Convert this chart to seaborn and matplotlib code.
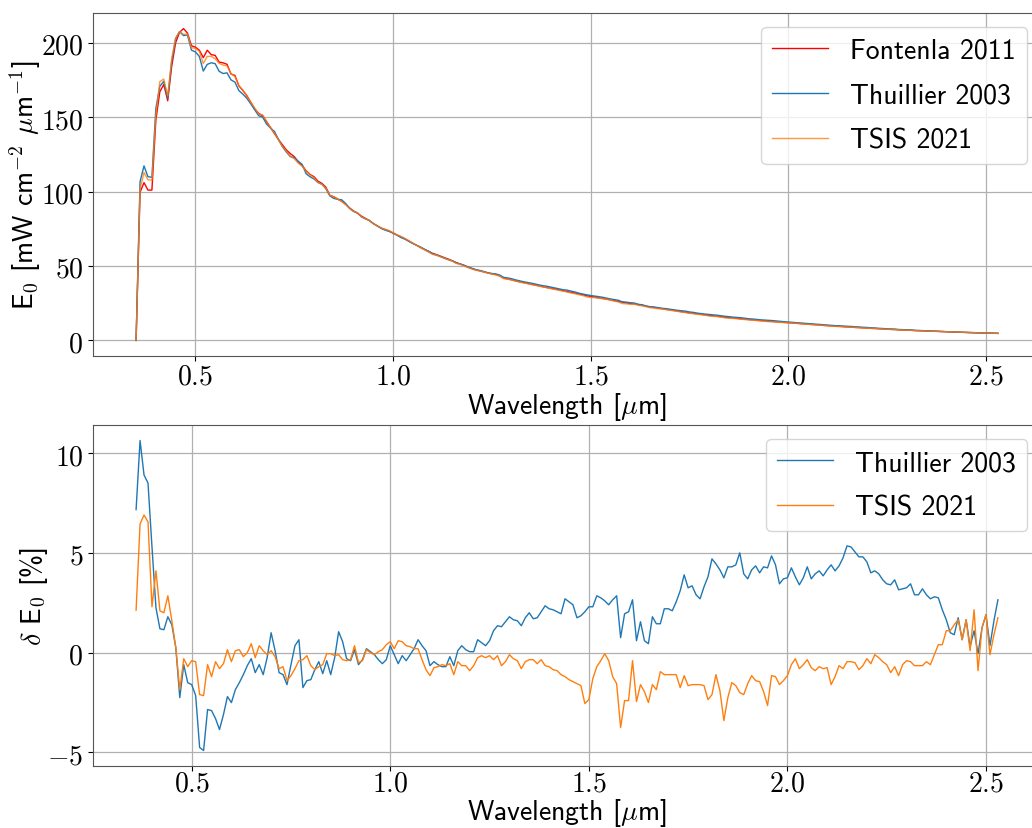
import numpy as np
import matplotlib
matplotlib.use("Agg")
import matplotlib.pyplot as plt
from matplotlib.ticker import FuncFormatter
import seaborn as sns

# ---- Data ----
# wavelength grid in micrometres, 10 nm sampling from 0.35 to 2.53
wavelength = np.round(np.arange(35, 254) / 100, 2)

# Fontenla 2011 solar irradiance E0 [mW cm^-2 um^-1]
fontenla_2011 = [
    0, 99.5, 106, 101, 101, 148, 167, 172, 161, 184,
    200, 207, 209.5, 206.5, 198, 197, 195, 190, 195, 192,
    191.5, 187, 186.5, 185.5, 179, 178, 171, 168, 164.5, 160,
    155.5, 152.5, 151, 147, 143, 139, 135, 131.5, 128, 125.5,
    123.5, 120, 117.5, 114, 111.5, 110, 107, 105.5, 103, 97.5,
    96.5, 95, 93.5, 91.5, 89, 87, 85.5, 83.5, 82, 80.5,
    78.5, 77, 75.5, 74.5, 73.5, 72, 70.8, 69.5, 68.2, 66.8,
    65.2, 63.8, 62.3, 61.0, 59.8, 58.5, 57.6, 56.6, 55.6, 54.6,
    53.5, 52.3, 51.3, 50.3, 49.2, 48.3, 47.4, 46.7, 46.0, 45.3,
    44.7, 44.2, 43.3, 41.8, 41.3, 40.7, 40.0, 39.4, 38.9, 38.3,
    37.7, 37.2, 36.6, 36.0, 35.5, 35.0, 34.5, 34.0, 33.4, 32.9,
    32.3, 31.8, 31.2, 30.6, 30.0, 29.5, 29.1, 28.6, 28.2, 27.7,
    27.2, 26.7, 26.2, 25.7, 25.2, 24.8, 24.5, 24.1, 23.6, 23.0,
    22.5, 22.1, 21.7, 21.3, 20.9, 20.5, 20.1, 19.7, 19.3, 18.9,
    18.5, 18.2, 17.8, 17.5, 17.1, 16.8, 16.5, 16.2, 15.9, 15.6,
    15.3, 15.0, 14.8, 14.5, 14.3, 14.0, 13.8, 13.5, 13.3, 13.1,
    12.9, 12.7, 12.5, 12.3, 12.1, 11.9, 11.7, 11.5, 11.3, 11.1,
    10.9, 10.7, 10.5, 10.3, 10.1, 9.9, 9.7, 9.5, 9.4, 9.2,
    9.0, 8.9, 8.7, 8.6, 8.4, 8.3, 8.1, 8.0, 7.8, 7.7,
    7.5, 7.4, 7.3, 7.1, 7.0, 6.9, 6.8, 6.6, 6.5, 6.4,
    6.3, 6.2, 6.1, 6.0, 5.9, 5.8, 5.7, 5.6, 5.5, 5.4,
    5.3, 5.25, 5.15, 5.05, 5.0, 4.9, 4.85, 4.75, 4.7,
]

# relative difference to Fontenla 2011 [%], undefined at 0.35 um (E0 = 0)
thuillier_delta = [np.nan] + [
    7.17, 10.63, 8.9, 8.5, 5.3, 2.25, 1.2, 1.15, 1.8, 1.4,
    0.25, -2.25, -0.6, -1.5, -1.6, -2.15, -4.75, -4.9, -2.85, -2.9,
    -3.3, -3.85, -3.1, -2.2, -2.5, -1.85, -1.5, -1.1, -0.65, -0.3,
    -1.0, -0.6, -1.1, -0.25, 1.0, 0.1, -1.0, -1.1, -1.6, -0.6,
    0.35, 0.65, -1.75, -1.4, -1.35, -0.85, -0.45, -1.05, -0.4, -1.1,
    -0.25, 1.05, 0.55, -0.3, -0.4, 0.15, -0.6, -0.35, 0.2, 0.05,
    -0.1, -0.35, -0.55, -0.35, 0.35, -0.1, -0.55, -0.15, -0.4, -0.1,
    0.2, 0.65, 0.35, 0.1, -0.65, -0.45, -0.6, -0.7, -0.7, -0.2,
    -0.65, 0.1, 0.35, 0.15, 0.05, 0.05, 0.65, 0.5, 0.35, 0.6,
    1.1, 1.35, 1.3, 1.55, 1.8, 1.65, 1.6, 1.35, 1.75, 2.0,
    1.7, 1.75, 2.05, 2.35, 2.2, 2.15, 2.05, 1.95, 2.7, 2.55,
    2.4, 1.75, 1.85, 2.05, 2.3, 2.3, 2.85, 2.75, 2.6, 2.4,
    2.65, 2.85, 0.75, 1.95, 2.05, 2.65, 0.6, 1.55, 0.6, 0.45,
    1.8, 1.45, 1.45, 2.2, 2.2, 2.1, 2.55, 3.1, 3.9, 3.25,
    3.35, 2.9, 2.7, 3.3, 3.8, 4.7, 4.45, 4.15, 3.75, 4.3,
    4.3, 4.4, 5.0, 3.95, 3.7, 4.15, 4.35, 4.0, 4.3, 4.25,
    4.85, 4.4, 3.45, 3.7, 3.75, 4.25, 3.8, 3.4, 3.75, 4.3,
    3.7, 3.95, 4.1, 3.85, 4.15, 4.4, 4.1, 4.35, 4.75, 5.35,
    5.3, 5.05, 4.8, 4.8, 4.55, 4.0, 4.1, 3.95, 3.65, 3.45,
    3.4, 3.65, 3.15, 3.2, 3.25, 3.45, 2.9, 2.9, 3.2, 2.9,
    2.7, 2.8, 2.75, 2.15, 1.65, 1.0, 0.9, 1.75, 0.65, 1.65,
    0.3, 1.1, -0.05, 1.25, 1.9, 0.35, 1.6, 2.65,
]

tsis_delta = [np.nan] + [
    2.13, 6.45, 6.9, 6.55, 2.3, 4.1, 2.1, 2.0, 2.85, 1.6,
    0.25, -1.85, -0.3, -0.7, -0.4, -0.45, -2.1, -2.15, -0.6, -1.2,
    -0.45, -0.8, -0.55, 0.15, -0.45, 0.1, 0.15, -0.2, 0.0, 0.45,
    -0.25, 0.35, 0.1, -0.1, 0.1, -0.2, -0.8, -0.7, -1.4, -1.15,
    -0.8, -0.4, -0.35, -0.15, -0.65, -0.85, -0.7, -0.6, -0.05, -0.05,
    -0.15, -0.1, -0.35, -0.4, -0.35, 0.35, -0.5, -0.4, 0.15, 0.0,
    -0.1, 0.05, 0.15, 0.4, 0.55, 0.2, 0.6, 0.55, 0.35, 0.3,
    0.2, 0.2, -0.35, -0.85, -1.15, -0.75, -0.7, -0.6, -0.65, -0.55,
    -1.1, -0.45, -0.65, -0.65, -0.9, -0.65, -0.25, -0.15, -0.25, -0.15,
    -0.35, -0.15, -0.65, -0.45, -0.1, -0.3, -0.4, -0.8, -0.45, -0.35,
    -0.35, -0.55, -0.35, -0.65, -0.7, -0.85, -0.9, -1.1, -1.2, -1.35,
    -1.45, -1.55, -1.65, -2.55, -2.35, -1.3, -0.7, -0.4, -0.05, -0.4,
    -1.2, -1.55, -3.75, -2.4, -2.4, -0.4, -2.45, -1.6, -1.95, -2.5,
    -1.6, -1.85, -0.95, -1.1, -1.1, -1.1, -1.1, -1.75, -1.15, -1.65,
    -1.6, -1.6, -1.6, -1.65, -2.35, -2.1, -1.1, -1.9, -3.4, -2.25,
    -1.5, -1.65, -2.0, -2.1, -1.55, -1.15, -1.4, -1.45, -1.95, -2.65,
    -1.15, -1.2, -1.6, -1.4, -1.15, -0.6, -0.3, -0.8, -0.6, -0.35,
    -0.75, -0.9, -0.7, -0.8, -0.75, -1.6, -1.2, -0.65, -0.8, -0.45,
    -0.45, -0.5, -0.85, -0.65, -0.3, -0.55, -0.1, -0.25, -0.45, -0.6,
    -1.0, -0.7, -1.15, -0.6, -0.4, -0.45, -0.65, -0.65, -0.65, -0.45,
    -0.6, -0.1, 0.4, 0.4, 1.1, 1.1, 1.4, 1.65, 0.65, 1.65,
    0.1, 2.15, -0.9, 1.25, 1.9, -0.1, 0.9, 1.75,
]

# ---- Style ----
SANS = "cmss10"
FONTSIZE = 20
plt.rcParams["mathtext.fontset"] = "cm"
plt.rcParams["axes.unicode_minus"] = True

COLORS = {"Fontenla 2011": "red", "Thuillier 2003": "#1f77b4", "TSIS 2021": "#ff7f0e"}

fontenla = np.array(fontenla_2011)
d_thuillier = np.array(thuillier_delta)
d_tsis = np.array(tsis_delta)
# the other two spectra follow from the Fontenla reference and their % difference
thuillier = fontenla * (1 + np.nan_to_num(d_thuillier) / 100)
tsis = fontenla * (1 + np.nan_to_num(d_tsis) / 100)


def style_axis(ax, xlabel, ylabel, tickpad=0.5):
    ax.grid(True, color="#b0b0b0", linewidth=0.9)
    ax.set_axisbelow(True)
    ax.set_xlabel(xlabel, family=SANS, fontsize=FONTSIZE, labelpad=0)
    ax.set_ylabel(ylabel, family=SANS, fontsize=FONTSIZE, labelpad=-2)
    ax.xaxis.set_major_formatter(FuncFormatter(lambda v, _: f"${v:.1f}$"))
    ax.yaxis.set_major_formatter(FuncFormatter(lambda v, _: f"${v:g}$"))
    ax.tick_params(labelsize=FONTSIZE)
    ax.tick_params(axis="x", pad=tickpad)
    for s in ax.spines.values():
        s.set_color("#555555")
    ax.legend(loc="upper right", prop={"family": SANS, "size": FONTSIZE},
              labelspacing=0.72)


fig = plt.figure(figsize=(10.32, 8.29), dpi=100)
ax_top = fig.add_axes([93 / 1032, 1 - 357 / 829, 948 / 1032, 343 / 829])
ax_bot = fig.add_axes([93 / 1032, 1 - 767 / 829, 948 / 1032, 341 / 829])

# ---- Top: irradiance spectra ----
sns.lineplot(x=wavelength, y=fontenla, ax=ax_top, color=COLORS["Fontenla 2011"],
             linewidth=1.0, label="Fontenla 2011", errorbar=None)
sns.lineplot(x=wavelength, y=thuillier, ax=ax_top, color=COLORS["Thuillier 2003"],
             linewidth=1.0, label="Thuillier 2003", errorbar=None)
sns.lineplot(x=wavelength, y=tsis, ax=ax_top, color=COLORS["TSIS 2021"],
             linewidth=1.0, alpha=0.8, label="TSIS 2021", errorbar=None)
style_axis(ax_top, r"Wavelength [$\mu$m]", r"E$_0$ [mW cm$^{-2}$ $\mu$m$^{-1}$]")

# ---- Bottom: relative differences ----
sns.lineplot(x=wavelength, y=d_thuillier, ax=ax_bot, color=COLORS["Thuillier 2003"],
             linewidth=1.0, label="Thuillier 2003", errorbar=None)
sns.lineplot(x=wavelength, y=d_tsis, ax=ax_bot, color=COLORS["TSIS 2021"],
             linewidth=1.0, label="TSIS 2021", errorbar=None)
style_axis(ax_bot, r"Wavelength [$\mu$m]", r"$\delta$ E$_0$ [%]", tickpad=-1.7)

fig.savefig("out.png", dpi=100)
